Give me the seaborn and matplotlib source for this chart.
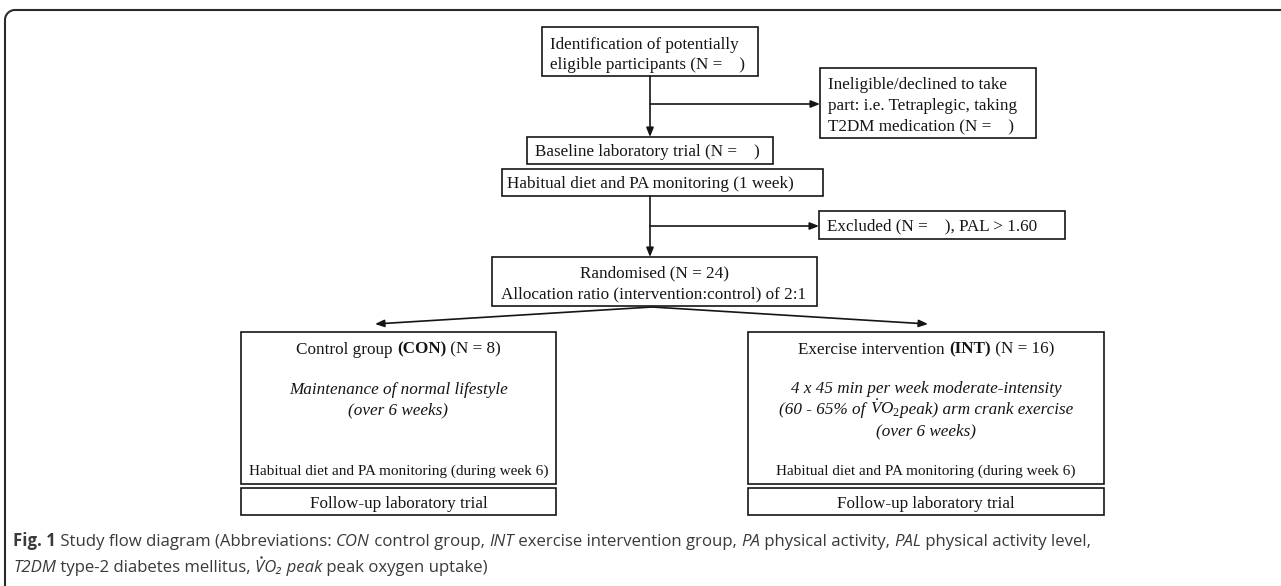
import matplotlib
matplotlib.use("Agg")
import matplotlib.pyplot as plt
import seaborn as sns
import numpy as np
from matplotlib.patches import Rectangle

# box texts (left / center aligned)
ident_lines = ["Identification of potentially", "eligible participants (N =    )"]
inelig_lines = ["Ineligible/declined to take", "part: i.e. Tetraplegic, taking", "T2DM medication (N =    )"]
baseline_text = "Baseline laboratory trial (N =    )"
habitual_text = "Habitual diet and PA monitoring (1 week)"
excluded_text = "Excluded (N =    ), PAL > 1.60"
random_lines = ["Randomised (N = 24)", "Allocation ratio (intervention:control) of 2:1"]
con_title = [("Control group ", "normal", "normal"), ("(CON)", "bold", "normal"), (" (N = 8)", "normal", "normal")]
int_title = [("Exercise intervention ", "normal", "normal"), ("(INT)", "bold", "normal"), (" (N = 16)", "normal", "normal")]
con_body = ["Maintenance of normal lifestyle", "(over 6 weeks)"]
int_body = [
    [("4 x 45 min per week moderate-intensity", "normal", "italic")],
    [("(60 - 65% of ", "normal", "italic"), (r"$\dot{V}O_2$", "normal", "italic"), ("peak) arm crank exercise", "normal", "italic")],
    [("(over 6 weeks)", "normal", "italic")],
]
week6_text = "Habitual diet and PA monitoring (during week 6)"
followup_text = "Follow-up laboratory trial"

caption_line1 = [("Fig. 1", "bold", "normal"), (" Study flow diagram (Abbreviations: ", "normal", "normal"),
                 ("CON", "normal", "italic"), (" control group, ", "normal", "normal"),
                 ("INT", "normal", "italic"), (" exercise intervention group, ", "normal", "normal"),
                 ("PA", "normal", "italic"), (" physical activity, ", "normal", "normal"),
                 ("PAL", "normal", "italic"), (" physical activity level,", "normal", "normal")]
caption_line2 = [("T2DM", "normal", "italic"), (" type-2 diabetes mellitus, ", "normal", "normal"),
                 ("VO\u2082 peak", "normal", "italic"), (" peak oxygen uptake)", "normal", "normal")]

# layout in pixels: (x0, y0, x1, y1)
boxes = {
    "ident": (542, 27, 758, 76),
    "inelig": (820, 68, 1036, 138),
    "baseline": (527, 137, 773, 164),
    "habitual": (502, 169, 823, 196),
    "excluded": (819, 211, 1065, 239),
    "random": (492, 257, 817, 306),
    "con": (241, 332, 556, 484),
    "con_fu": (241, 488, 556, 515),
    "int": (748, 332, 1104, 484),
    "int_fu": (748, 488, 1104, 515),
}

sns.set_theme(style="white")
plt.rcParams["mathtext.fontset"] = "custom"
plt.rcParams["mathtext.rm"] = "Liberation Serif"
plt.rcParams["mathtext.it"] = "Liberation Serif:italic"
plt.rcParams["mathtext.bf"] = "Liberation Serif:bold"

W, H = 1281, 586
fig = plt.figure(figsize=(W / 100, H / 100), dpi=100)
ax = fig.add_axes([0, 0, 1, 1])
ax.set_xlim(0, W)
ax.set_ylim(H, 0)
ax.axis("off")
renderer = fig.canvas.get_renderer()

SERIF = ["Liberation Serif", "DejaVu Serif"]
SANS = ["Open Sans", "DejaVu Sans"]
INK = "#151515"
CAP = "#3a3a3a"


def ext_width(s, size, family, weight, style):
    t = ax.text(0, 0, s, fontsize=size, family=family, weight=weight, style=style)
    w = t.get_window_extent(renderer).width
    t.remove()
    return w


def run_widths(runs, size, family):
    out = []
    for s, w, st in runs:
        if "$" in s:
            out.append(ext_width(s, size, family, w, st))
        else:
            bar = ext_width("||", size, family, w, st)
            out.append(ext_width("|" + s + "|", size, family, w, st) - bar)
    return out


def draw_runs(x, y, runs, size, family, color, ha="left"):
    widths = run_widths(runs, size, family)
    if ha == "center":
        x -= sum(widths) / 2
    base = y + 0.34 * size * 100 / 72
    starts = []
    for (s, w, st), wd in zip(runs, widths):
        ax.text(x, base, s, fontsize=size, family=family, weight=w, style=st,
                color=color, ha="left", va="baseline")
        starts.append(x)
        x += wd
    return starts, base


def plain(s, style="normal"):
    return [(s, "normal", style)]


# calibrate font sizes against widths
fs = 10 * 288 / sum(run_widths(plain(habitual_text), 10, SERIF))
fs_small = fs * 0.885
cs = 10 * 1077 / sum(run_widths(caption_line1, 10, SANS))

# outer frame: top and left edges with a rounded corner
r = 10
t = np.linspace(np.pi, 1.5 * np.pi, 30)
fx = np.concatenate([[5, 5], 5 + r + r * np.cos(t), [W + 5]])
fy = np.concatenate([[H + 5, 10 + r], 10 + r + r * np.sin(t), [10]])
ax.plot(fx, fy, color="#2b2b2b", lw=1.5, solid_capstyle="butt")

for x0, y0, x1, y1 in boxes.values():
    ax.add_patch(Rectangle((x0, y0), x1 - x0, y1 - y0, fill=False, ec=INK, lw=1.2))

# left aligned boxes
for i, line in enumerate(ident_lines):
    draw_runs(550, 43 + 20 * i, plain(line), fs, SERIF, INK)
for i, line in enumerate(inelig_lines):
    draw_runs(828, 83 + 21 * i, plain(line), fs, SERIF, INK)
draw_runs(535, 150, plain(baseline_text), fs, SERIF, INK)
draw_runs(507, 182, plain(habitual_text), fs, SERIF, INK)
draw_runs(827, 225, plain(excluded_text), fs, SERIF, INK)

# centered boxes
for i, line in enumerate(random_lines):
    draw_runs(654, 272 + 21 * i, plain(line), fs, SERIF, INK, ha="center")

cx_con = (boxes["con"][0] + boxes["con"][2]) / 2
cx_int = (boxes["int"][0] + boxes["int"][2]) / 2
draw_runs(cx_con, 348, con_title, fs, SERIF, INK, ha="center")
draw_runs(cx_int, 348, int_title, fs, SERIF, INK, ha="center")
for i, line in enumerate(con_body):
    draw_runs(cx_con, 388 + 21 * i, plain(line, "italic"), fs, SERIF, INK, ha="center")
for i, runs in enumerate(int_body):
    draw_runs(cx_int, 387 + 21.5 * i, runs, fs, SERIF, INK, ha="center")
for cx in (cx_con, cx_int):
    draw_runs(cx, 470, plain(week6_text), fs_small, SERIF, INK, ha="center")
    draw_runs(cx, 502, plain(followup_text), fs, SERIF, INK, ha="center")

# connectors
arrow = dict(arrowstyle="-|>,head_length=0.45,head_width=0.18", color=INK, lw=1.2,
             shrinkA=0, shrinkB=0, mutation_scale=12)
ax.annotate("", xy=(650, 137), xytext=(650, 76), arrowprops=arrow)
ax.annotate("", xy=(820, 104), xytext=(650, 104), arrowprops=arrow)
ax.annotate("", xy=(650, 257), xytext=(650, 196), arrowprops=arrow)
ax.annotate("", xy=(819, 226), xytext=(650, 226), arrowprops=arrow)
ax.annotate("", xy=(375, 324), xytext=(652, 307), arrowprops=arrow)
ax.annotate("", xy=(928, 324), xytext=(652, 307), arrowprops=arrow)

# caption
draw_runs(13, 540, caption_line1, cs, SANS, CAP)
starts, base2 = draw_runs(13, 566, caption_line2, cs, SANS, CAP)
# dot accent over the V of VO2
v_w = run_widths([("V", "normal", "italic")], cs, SANS)[0]
em = cs * 100 / 72
ax.plot([starts[2] + v_w / 2 + 0.1 * em], [base2 - 0.86 * em], marker="o", ms=1.8,
        color=CAP, mec="none")

fig.savefig("out.png", dpi=100)
